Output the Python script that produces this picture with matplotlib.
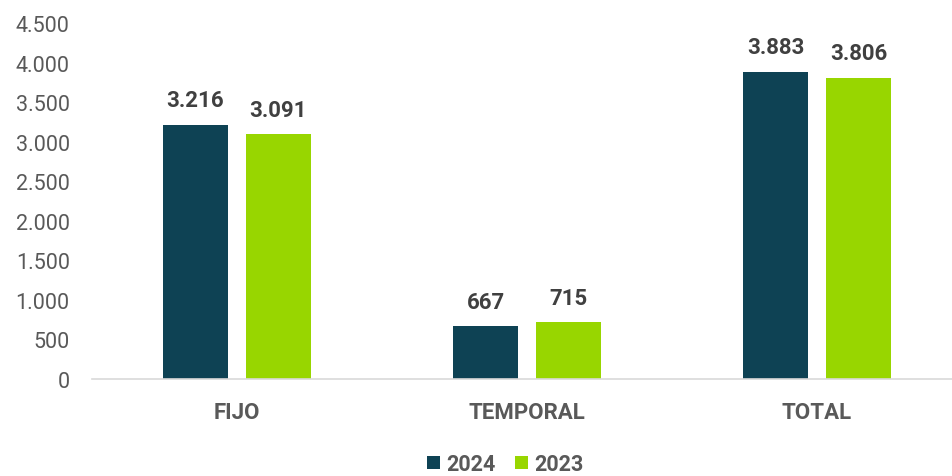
import numpy as np
import matplotlib.pyplot as plt

categories = ['FIJO', 'TEMPORAL', 'TOTAL']
series_2024 = [3216, 667, 3883]
series_2023 = [3091, 715, 3806]
labels_2024 = ['3.216', '667', '3.883']
labels_2023 = ['3.091', '715', '3.806']
years = ['2024', '2023']

plt.rcParams['font.family'] = ['Roboto', 'DejaVu Sans']

fig = plt.figure(figsize=(9.52, 4.77), dpi=100)
# axis line runs past the right edge of the picture, like the original
ax = fig.add_axes([92 / 952, 1 - 380 / 477, 870 / 952, 356 / 477])

x = np.arange(len(categories))
w = 0.224
off = 0.143
dark = '#0E4254'
green = '#98D600'
grey = '#595959'

b1 = ax.bar(x - off, series_2024, w, color=dark, label=years[0])
b2 = ax.bar(x + off, series_2023, w, color=green, label=years[1])

for bars, labs in ((b1, labels_2024), (b2, labels_2023)):
    for r, t in zip(bars, labs):
        ax.text(r.get_x() + r.get_width() / 2, r.get_height() + 170, t,
                ha='center', va='bottom', fontsize=16, fontweight='bold', color='#404040')

ax.set_xlim(-0.5, 2.5)
ax.set_ylim(0, 4500)
ax.set_yticks(np.arange(0, 4501, 500))
ax.set_yticklabels([f'{v:,}'.replace(',', '.') for v in range(0, 4501, 500)])
ax.set_xticks(x)
ax.set_xticklabels(categories, fontweight='bold')

for s in ['top', 'right', 'left']:
    ax.spines[s].set_visible(False)
ax.spines['bottom'].set_color('#D9D9D9')
ax.spines['bottom'].set_linewidth(1.2)
ax.tick_params(axis='y', length=0, labelsize=15.5, labelcolor=grey, pad=16)
ax.tick_params(axis='x', length=0, labelsize=16, labelcolor=grey, pad=16)

fig.legend(handles=[b1, b2], labels=years, loc='center', bbox_to_anchor=(505 / 952, 1 - 465 / 477),
           ncol=2, frameon=False, handlelength=0.6, handleheight=0.6, handletextpad=0.3,
           columnspacing=0.9, prop={'size': 15.5, 'weight': 'bold'}, labelcolor=grey)

fig.savefig('out.png', dpi=100)
